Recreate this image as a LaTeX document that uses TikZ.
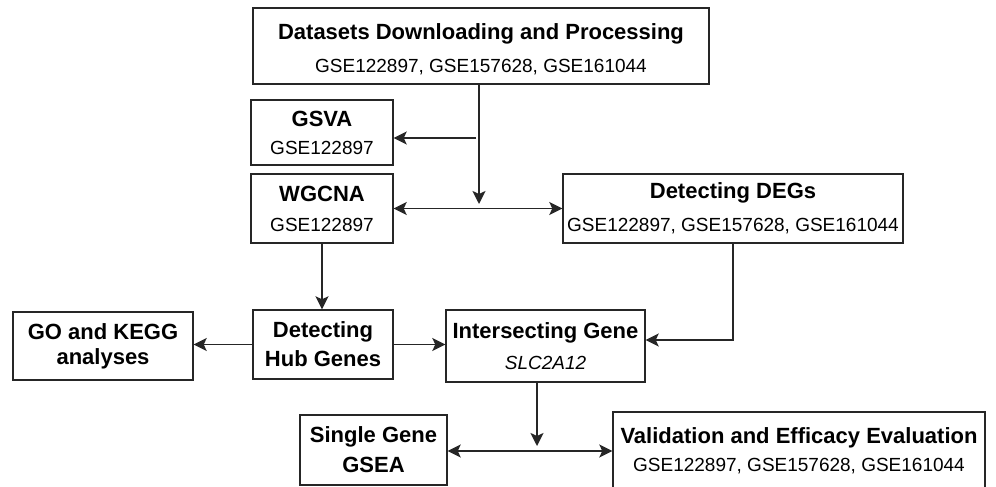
\documentclass[tikz,border=0pt]{standalone}
\usepackage{fontspec}
\setmainfont{Liberation Sans}
\usetikzlibrary{arrows.meta}

% title line inside a box
\newcommand{\ttl}[1]{{\bfseries\fontsize{22}{26}\selectfont #1}}

\begin{document}
\begin{tikzpicture}[x=1pt,y=-1pt,
  box/.style={draw=black!85, line width=1.4pt, inner sep=0pt, align=center, text=black},
  lsk/.style={font=\fontsize{19}{#1}\selectfont},
  sz/.style 2 args={minimum width=#1, minimum height=#2},
  tip/.tip={Stealth[length=13pt,width=13pt,inset=3pt]},
  arr/.style={draw=black!85, line width=1.9pt, -tip},
  darr/.style={draw=black!85, line width=1.9pt, tip-tip}]

\useasboundingbox[fill=white] (0,0) rectangle (996,487);

% boxes
\node[box, lsk=33, sz={456pt}{76pt}] (data) at (481,46)
  {\rule{0pt}{22pt}\ttl{Datasets Downloading and Processing}\\GSE122897, GSE157628, GSE161044};
\node[box, lsk=28, sz={142pt}{65pt}] (gsva) at (322,132.5)
  {\ttl{GSVA}\\GSE122897};
\node[box, lsk=30, sz={142pt}{69pt}] (wgcna) at (322,208.5)
  {\ttl{WGCNA}\\GSE122897};
\node[box, lsk=33, sz={340pt}{69pt}] (degs) at (733,208.5)
  {\ttl{Detecting DEGs}\\GSE122897, GSE157628, GSE161044};
\node[box, lsk=29, sz={140pt}{69pt}] (hub) at (323,344.5)
  {\ttl{Detecting}\\\ttl{Hub Genes}};
\node[box, lsk=25, sz={180pt}{68pt}] (go) at (103,346)
  {\ttl{GO and KEGG}\\\ttl{analyses}};
\node[box, lsk=31, sz={199pt}{72pt}] (inter) at (545.5,346)
  {\ttl{Intersecting Gene}\\\itshape SLC2A12};
\node[box, lsk=30, sz={147pt}{70pt}] (single) at (373.5,450)
  {\ttl{Single Gene}\\\ttl{GSEA}};
\node[box, lsk=28, sz={372pt}{78pt}] (valid) at (799,451)
  {\ttl{Validation and Efficacy Evaluation}\\GSE122897, GSE157628, GSE161044};

% junction points of the connectors
\coordinate (j1) at (479,209);
\coordinate (br) at (476,138);
\coordinate (j2) at (537,451);

% connectors
\draw[arr] (data.south -| j1) -- ([yshift=5pt]j1);
\draw[arr] (br) -- (gsva.east |- br);
\draw[darr] (wgcna.east) -- (degs.west);
\draw[arr] (wgcna.south) -- (wgcna.south |- hub.north);
\draw[arr] (hub.west) -- (hub.west -| go.east);
\draw[arr] (hub.east) -- (hub.east -| inter.west);
\draw[arr] (degs.south) |- ([yshift=6pt]inter.east);
\draw[arr] (inter.south -| j2) -- ([yshift=5pt]j2);
\draw[darr] (single.east |- j2) -- (valid.west |- j2);
\end{tikzpicture}
\end{document}
